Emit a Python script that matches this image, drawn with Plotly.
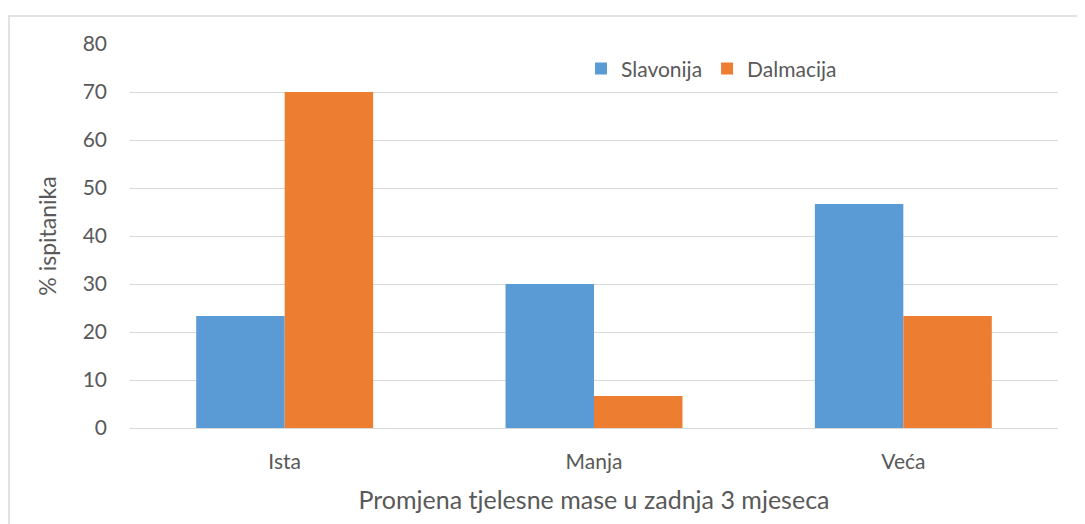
import plotly.graph_objs as go

# podaci
kategorije = ["Ista", "Manja", "Veća"]
slavonija = [23.33, 30.0, 46.67]
dalmacija = [70.0, 6.67, 23.33]
y_ticks = [0, 10, 20, 30, 40, 50, 60, 70, 80]

colors = {"Slavonija": "#5B9BD5", "Dalmacija": "#ED7D31"}
text_color = "#595959"
font_family = "Lato, 'Open Sans', sans-serif"

fig = go.Figure(
    data=[
        go.Bar(
            x=kategorije,
            y=slavonija,
            marker_color=colors["Slavonija"],
            marker_line_width=0,
            name="Slavonija",
        ),
        go.Bar(
            x=kategorije,
            y=dalmacija,
            marker_color=colors["Dalmacija"],
            marker_line_width=0,
            name="Dalmacija",
        ),
    ]
)

# stranica ima 8px margine tijela, pa je figura za toliko manja
fig.update_layout(
    width=1077,
    height=516,
    barmode="group",
    bargap=0.428,
    bargroupgap=0,
    plot_bgcolor="white",
    paper_bgcolor="white",
    margin=dict(l=122, r=27, t=36, b=96),
    font=dict(family=font_family, color=text_color, size=21),
    legend=dict(
        orientation="h",
        x=0.486,
        y=0.935,
        xanchor="left",
        yanchor="middle",
        bgcolor="rgba(0,0,0,0)",
        font=dict(size=21, color=text_color),
        traceorder="normal",
    ),
    showlegend=True,
)

# okvir grafikona (izlazi izvan prozora desno i dolje)
fig.add_shape(
    type="rect",
    xref="paper",
    yref="paper",
    x0=-0.1304,
    x1=1.04,
    y0=-0.28,
    y1=1.0729,
    line=dict(color="#D9D9D9", width=1.5),
    fillcolor="rgba(0,0,0,0)",
    layer="below",
)

fig.update_yaxes(
    range=[0, 80],
    tickvals=y_ticks,
    showgrid=True,
    gridcolor="#D9D9D9",
    gridwidth=1.3,
    zeroline=False,
    showline=False,
    ticklabelstandoff=22,
    tickfont=dict(size=21),
    title=dict(text="% ispitanika", font=dict(size=23), standoff=19),
)
fig.update_xaxes(
    showline=True,
    linecolor="#D9D9D9",
    linewidth=1.3,
    ticks="",
    ticklabelstandoff=15,
    tickfont=dict(size=21),
    title=dict(
        text="Promjena tjelesne mase u zadnja 3 mjeseca",
        font=dict(size=25),
        standoff=19,
    ),
)

fig.write_html("out.html")
